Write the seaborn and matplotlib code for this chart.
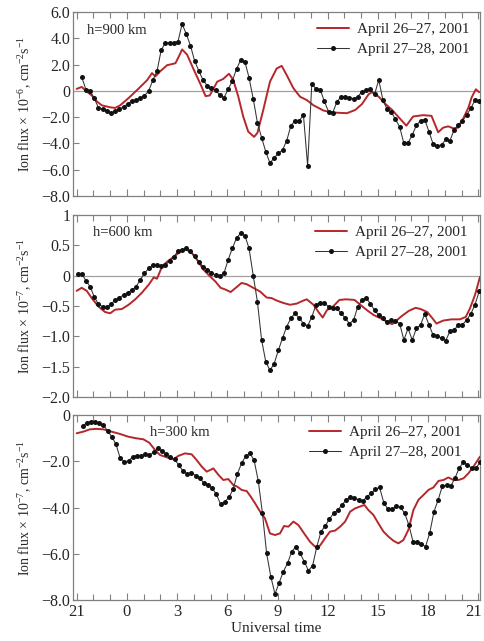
import numpy as np
import matplotlib
matplotlib.use("Agg")
import matplotlib.pyplot as plt
import matplotlib.transforms as mtransforms
import seaborn as sns

# ---------------- data ----------------
# time axis: hours since 21 UT (0 -> 21 UT, 24 -> 21 UT next day)
tick_pos = [0, 3, 6, 9, 12, 15, 18, 21, 24]
tick_lab = ["21", "0", "3", "6", "9", "12", "15", "18", "21"]
series_labels = ["April 26\u201327, 2001", "April 27\u201328, 2001"]

# h = 900 km
p1_red_t = [0.0, 0.3, 0.6, 0.9, 1.2, 1.5, 2.0, 2.3, 2.6, 3.1, 3.6, 4.2, 4.5, 4.7, 5.0, 5.4,
            5.9, 6.1, 6.3, 6.6, 7.0, 7.4, 7.7, 7.95, 8.4, 8.75, 9.1, 9.35, 9.65, 9.95, 10.25,
            10.6, 10.8, 11.15, 11.55, 11.95, 12.25, 12.55, 12.95, 13.35, 13.75, 14.15, 14.75,
            15.35, 16.15, 16.65, 17.05, 17.45, 17.65, 18.05, 18.45, 18.85, 19.2, 19.7, 20.1,
            20.7, 21.2, 21.6, 21.9, 22.2, 22.5, 22.8, 23.1, 23.4, 23.6, 23.85, 24.05]
p1_red_v = [0.15, 0.3, -0.05, -0.35, -0.8, -1.1, -1.25, -1.3, -1.1, -0.55, 0.05, 0.8, 1.35, 1.1,
            1.5, 1.95, 2.1, 2.6, 3.15, 2.75, 1.6, 0.5, -0.4, -0.35, 0.7, 0.9, 1.3, 0.85, -0.4,
            -1.95, -3.1, -3.5, -3.2, -1.45, 0.7, 1.7, 1.9, 1.2, 0.2, -0.45, -0.7, -1.1, -1.5,
            -1.65, -1.7, -1.45, -1.0, -0.25, -0.1, -0.45, -1.0, -1.45, -1.95, -2.65, -1.95,
            -1.85, -1.9, -3.15, -2.8, -2.7, -2.85, -2.8, -2.1, -1.3, -0.5, 0.12, -0.1]
p1_blk_start, p1_blk_step = 0.3, 0.25
p1_blk_v = [1.05, 0.1, 0.0, -0.57, -1.28, -1.4, -1.5, -1.71, -1.54, -1.4, -1.2, -1.0, -0.75,
            -0.7, -0.57, -0.38, 0.0, 0.8, 1.5, 3.1, 3.66, 3.66, 3.66, 3.74, 5.09, 4.33, 3.44,
            2.27, 1.51, 0.83, 0.39, 0.19, 0.06, -0.32, -0.52, 0.12, 0.75, 1.66, 2.35, 2.22, 1.0,
            -0.62, -2.42, -3.56, -4.63, -5.5, -5.09, -4.76, -4.5, -3.79, -2.65, -2.27, -2.27,
            -1.84, -5.7, 0.55, 0.15, 0.1, -0.8, -1.58, -1.65, -0.83, -0.44, -0.44, -0.52, -0.6,
            -0.44, -0.06, 0.07, 0.12, -0.26, 0.83, -0.7, -1.4, -1.6, -2.17, -2.74, -4.0, -3.96,
            -3.36, -2.62, -2.27, -2.2, -3.1, -4.05, -4.17, -4.12, -3.7, -3.8, -2.98, -2.58,
            -2.27, -1.84, -1.33, -0.7, -0.75]

# h = 600 km
p2_red_t = [0.0, 0.3, 0.6, 0.9, 1.3, 1.7, 2.0, 2.3, 2.7, 3.1, 3.5, 3.9, 4.3, 4.6, 4.8, 5.1,
            5.4, 5.8, 6.2, 6.5, 6.8, 7.2, 7.6, 8.0, 8.3, 8.6, 8.9, 9.2, 9.55, 9.85, 10.15, 10.55,
            10.95, 11.35, 11.65, 11.95, 12.35, 12.75, 13.15, 13.55, 13.75, 14.15, 14.45, 14.7,
            14.95, 15.35, 15.7, 16.1, 16.6, 16.95, 17.35, 17.75, 18.15, 18.55, 18.85, 19.15,
            19.45, 19.85, 20.25, 20.55, 20.95, 21.25, 21.5, 21.9, 22.4, 22.9, 23.25, 23.5,
            23.8, 24.1]
p2_red_v = [-0.25, -0.2, -0.25, -0.37, -0.51, -0.6, -0.62, -0.56, -0.55, -0.48, -0.39, -0.28,
            -0.15, -0.03, -0.05, 0.15, 0.23, 0.31, 0.4, 0.43, 0.4, 0.26, 0.09, -0.02, -0.1,
            -0.2, -0.23, -0.27, -0.19, -0.12, -0.14, -0.2, -0.26, -0.36, -0.37, -0.41, -0.45,
            -0.48, -0.46, -0.41, -0.39, -0.48, -0.6, -0.69, -0.57, -0.5, -0.4, -0.39, -0.4,
            -0.48, -0.57, -0.65, -0.7, -0.76, -0.8, -0.73, -0.66, -0.58, -0.53, -0.55, -0.6,
            -0.7, -0.79, -0.74, -0.72, -0.72, -0.68, -0.54, -0.32, -0.02]
p2_blk_start, p2_blk_step = 0.05, 0.25
p2_blk_v = [0.03, 0.03, -0.08, -0.18, -0.35, -0.47, -0.51, -0.52, -0.47, -0.4, -0.36, -0.32,
            -0.28, -0.24, -0.18, -0.07, 0.04, 0.12, 0.17, 0.17, 0.16, 0.17, 0.25, 0.31, 0.4,
            0.43, 0.45, 0.4, 0.32, 0.23, 0.15, 0.1, 0.05, 0.01, -0.01, 0.04, 0.26, 0.45, 0.62,
            0.7, 0.66, 0.45, 0.0, -0.43, -1.06, -1.42, -1.56, -1.45, -1.23, -1.03, -0.84, -0.7,
            -0.62, -0.7, -0.79, -0.83, -0.68, -0.48, -0.45, -0.45, -0.51, -0.54, -0.54, -0.62,
            -0.7, -0.79, -0.73, -0.51, -0.4, -0.37, -0.46, -0.57, -0.65, -0.7, -0.76, -0.73,
            -0.75, -0.79, -1.06, -0.87, -1.06, -0.87, -0.81, -0.63, -0.81, -0.98, -0.99, -1.03,
            -1.07, -0.92, -0.9, -0.81, -0.81, -0.73, -0.63, -0.48, -0.26]

# h = 300 km
p3_red_t = [0.0, 0.4, 0.79, 1.19, 1.59, 2.09, 2.59, 3.09, 3.58, 3.98, 4.34, 4.68, 4.98, 5.38,
            5.78, 6.07, 6.47, 6.87, 7.17, 7.47, 7.77, 8.17, 8.47, 8.76, 9.06, 9.36, 9.6, 9.86,
            10.16, 10.4, 10.66, 10.96, 11.25, 11.55, 11.85, 12.15, 12.39, 12.65, 12.95, 13.25,
            13.59, 13.94, 14.24, 14.54, 14.84, 15.14, 15.44, 15.74, 16.04, 16.34, 16.63, 16.93,
            17.19, 17.43, 17.73, 18.03, 18.33, 18.63, 18.93, 19.22, 19.52, 19.82, 20.12, 20.42,
            20.72, 21.02, 21.32, 21.62, 21.92, 22.21, 22.51, 22.81, 23.11, 23.41, 23.71, 24.1]
p3_red_v = [-0.79, -0.72, -0.62, -0.6, -0.62, -0.72, -0.82, -0.94, -1.01, -1.05, -1.2, -1.51,
            -1.73, -1.83, -1.92, -1.77, -1.66, -1.7, -1.95, -2.23, -2.45, -2.31, -2.59, -2.81,
            -2.77, -3.03, -3.1, -3.24, -3.29, -3.53, -3.82, -4.18, -4.47, -5.12, -5.19, -5.12,
            -4.8, -4.83, -4.61, -4.76, -5.12, -5.48, -5.69, -5.65, -5.33, -5.04, -5.0, -4.83,
            -4.61, -4.18, -4.04, -3.96, -3.89, -4.11, -4.32, -4.69, -5.04, -5.26, -5.44, -5.55,
            -5.41, -4.97, -4.11, -3.67, -3.46, -3.24, -3.13, -2.85, -2.81, -2.7, -2.81, -2.81,
            -2.74, -2.52, -2.23, -1.8]
p3_blk_start, p3_blk_step = 0.35, 0.25
p3_blk_v = [-0.48, -0.33, -0.29, -0.32, -0.36, -0.43, -0.69, -0.94, -1.27, -1.87,
            -2.02, -1.99, -1.8, -1.76, -1.77, -1.7, -1.73, -1.61, -1.44, -1.56,
            -1.7, -1.83, -1.92, -2.16, -2.42, -2.55, -2.49, -2.62, -2.71, -2.95,
            -3.03, -3.17, -3.43, -3.86, -3.75, -3.56, -3.21, -2.55, -2.09, -1.78,
            -1.66, -1.95, -2.85, -4.25, -5.98, -6.99, -7.74, -7.25, -6.77, -6.41,
            -5.91, -5.69, -5.98, -6.34, -6.73, -6.51, -5.69, -5.04, -4.8, -4.5,
            -4.25, -4.11, -3.89, -3.67, -3.56, -3.57, -3.67, -3.72, -3.53, -3.39,
            -3.21, -3.13, -3.79, -4.08, -4.08, -3.93, -3.99, -4.25, -4.76, -5.48,
            -5.48, -5.58, -5.69, -5.09, -4.18, -3.67, -3.07, -3.03, -3.07, -2.74,
            -2.3, -2.05, -2.15, -2.3, -2.3, -2.05]

p1_yticks = [6, 4, 2, 0, -2, -4, -6, -8]
p1_ylabels = ["6.0", "4.0", "2.0", "0", "\u22122.0", "\u22124.0", "\u22126.0", "\u22128.0"]
p2_yticks = [1, 0.5, 0, -0.5, -1.0, -1.5, -2.0]
p2_ylabels = ["1", "0.5", "0", "\u22120.5", "\u22121.0", "\u22121.5", "\u22122.0"]
p3_yticks = [0, -2, -4, -6, -8]
p3_ylabels = ["0", "\u22122.0", "\u22124.0", "\u22126.0", "\u22128.0"]

# ---------------- style ----------------
sns.set_theme(style="ticks")
plt.rcParams["font.family"] = ["Liberation Serif", "DejaVu Serif"]
plt.rcParams["mathtext.fontset"] = "custom"
plt.rcParams["mathtext.rm"] = "Liberation Serif"
plt.rcParams["mathtext.it"] = "Liberation Serif:italic"

RED = "#b5272b"
BLK = "#111111"
SPINE = "#808080"

fig = plt.figure(figsize=(4.84, 6.41), dpi=100)
W, H = 484, 641
left, right = 73, 480


def make_ax(top, bottom):
    return fig.add_axes([left / W, (H - bottom) / H, (right - left) / W, (bottom - top) / H])


panels = [
    dict(ax=make_ax(12, 196), rt=p1_red_t, rv=p1_red_v, bs=p1_blk_start, bst=p1_blk_step,
         bv=p1_blk_v, ylim=(-8, 6), yt=p1_yticks, yl=p1_ylabels, exp="-6",
         htxt="h=900 km", hpos=(0.035, 0.90), leg_x=1.0, zero=True),
    dict(ax=make_ax(215, 397), rt=p2_red_t, rv=p2_red_v, bs=p2_blk_start, bst=p2_blk_step,
         bv=p2_blk_v, ylim=(-2, 1), yt=p2_yticks, yl=p2_ylabels, exp="-7",
         htxt="h=600 km", hpos=(0.05, 0.905), leg_x=0.995, zero=True),
    dict(ax=make_ax(415, 600), rt=p3_red_t, rv=p3_red_v, bs=p3_blk_start, bst=p3_blk_step,
         bv=p3_blk_v, ylim=(-8, 0), yt=p3_yticks, yl=p3_ylabels, exp="-7",
         htxt="h=300 km", hpos=(0.19, 0.905), leg_x=0.98, zero=False),
]

for i, p in enumerate(panels):
    ax = p["ax"]
    if p["zero"]:
        ax.axhline(0, color="#a0a0a0", lw=0.9, zorder=1)
    bt = p["bs"] + p["bst"] * np.arange(len(p["bv"]))
    sns.lineplot(x=p["rt"], y=p["rv"], ax=ax, color=RED, lw=1.4, estimator=None,
                 sort=False, label=series_labels[0], zorder=3)
    sns.lineplot(x=bt, y=p["bv"], ax=ax, color="#333333", lw=0.75, estimator=None,
                 sort=False, marker="o", markersize=3.6, markerfacecolor=BLK,
                 markeredgecolor=BLK, markeredgewidth=0, label=series_labels[1], zorder=4)
    ax.set_xlim(-0.22, 24.1)
    ax.set_ylim(*p["ylim"])
    ax.set_xticks(tick_pos)
    ax.set_xticks(np.arange(0, 25, 1), minor=True)
    ax.set_yticks(p["yt"])
    ax.set_yticklabels(p["yl"])
    if i == 2:
        ax.set_xticklabels(tick_lab)
        ax.set_xlabel("Universal time", fontsize=11, labelpad=1)
    else:
        ax.set_xticklabels([])
        ax.set_xlabel("")
    ax.tick_params(axis="x", which="both", direction="in", top=True, bottom=True,
                   color=SPINE, width=0.8, labelsize=12, pad=3)
    ax.tick_params(axis="x", which="major", length=5)
    ax.tick_params(axis="x", which="minor", length=4)
    ax.tick_params(axis="y", which="major", direction="in", length=4, color=SPINE,
                   width=0.8, labelsize=11.5, pad=2)
    for s in ax.spines.values():
        s.set_visible(True)
        s.set_color(SPINE)
        s.set_linewidth(0.9)
    ax.set_ylabel(r"Ion flux$\,\times\,$10$^{%s}$, cm$^{-2}$s$^{-1}$" % p["exp"], fontsize=10)
    ax.yaxis.set_label_coords(-0.095, 0.5)
    ax.text(p["hpos"][0], p["hpos"][1], p["htxt"], transform=ax.transAxes, fontsize=10.5,
            ha="left", va="center")
    ax.legend(loc="upper right", bbox_to_anchor=(p["leg_x"], 1.0), frameon=False,
              fontsize=11, handlelength=2.1, handletextpad=0.5, labelspacing=0.4,
              borderaxespad=0.3)

# keep the last "21" label inside the figure
last_lab = panels[2]["ax"].get_xticklabels()[-1]
last_lab.set_transform(last_lab.get_transform()
                       + mtransforms.ScaledTranslation(-5 / 100, 0, fig.dpi_scale_trans))

fig.savefig("out.png", dpi=100)
